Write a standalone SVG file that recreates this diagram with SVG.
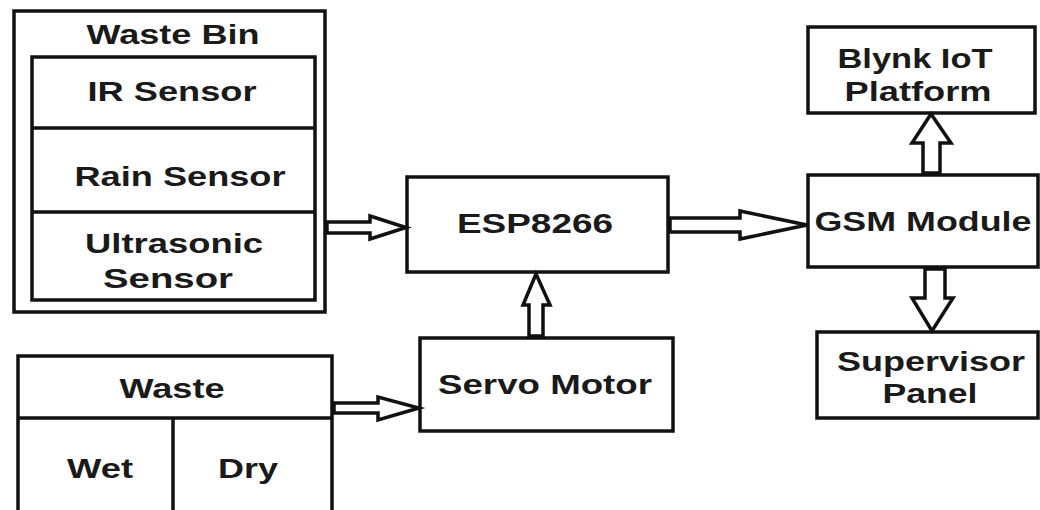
<svg xmlns="http://www.w3.org/2000/svg" width="1040" height="510" viewBox="0 0 1040 510">
<style>
.box{fill:#fff;stroke:#111;stroke-width:3.5}
.ln{fill:none;stroke:#111;stroke-width:3.5}
.arr{fill:#fff;stroke:#111;stroke-width:3.5;stroke-linejoin:miter}
text{font-family:"Liberation Sans",Arial,sans-serif;font-weight:bold;font-size:27px;fill:#1a1a1a;text-anchor:middle}
</style>
<rect width="1040" height="510" fill="#fff"/>
<g id="waste-bin">
<rect class="box" x="14" y="11" width="311" height="301"/>
<text x="173" y="44" textLength="173" lengthAdjust="spacingAndGlyphs">Waste Bin</text>
<rect class="box" x="32" y="57" width="283" height="243"/>
<line class="ln" x1="32" y1="128" x2="315" y2="128"/>
<line class="ln" x1="32" y1="212" x2="315" y2="212"/>
<g id="ir-sensor"><text x="172" y="101" textLength="169" lengthAdjust="spacingAndGlyphs">IR Sensor</text></g>
<g id="rain-sensor"><text x="180" y="186" textLength="211" lengthAdjust="spacingAndGlyphs">Rain Sensor</text></g>
<g id="ultrasonic-sensor"><text x="174" y="253" textLength="178" lengthAdjust="spacingAndGlyphs">Ultrasonic</text>
<text x="168" y="288" textLength="130" lengthAdjust="spacingAndGlyphs">Sensor</text></g>
</g>
<g id="esp8266">
<rect class="box" x="407" y="177" width="261" height="95"/>
<text x="535" y="233" textLength="156" lengthAdjust="spacingAndGlyphs">ESP8266</text>
</g>
<g id="servo-motor">
<rect class="box" x="420" y="338" width="253" height="93"/>
<text x="545" y="394" textLength="214" lengthAdjust="spacingAndGlyphs">Servo Motor</text>
</g>
<g id="waste">
<rect class="box" x="18" y="356" width="314" height="164"/>
<line class="ln" x1="18" y1="418" x2="332" y2="418"/>
<line class="ln" x1="173" y1="418" x2="173" y2="520"/>
<text x="172" y="398" textLength="105" lengthAdjust="spacingAndGlyphs">Waste</text>
<g id="wet"><text x="100" y="478" textLength="66" lengthAdjust="spacingAndGlyphs">Wet</text></g>
<g id="dry"><text x="248" y="478" textLength="60" lengthAdjust="spacingAndGlyphs">Dry</text></g>
</g>
<g id="blynk">
<rect class="box" x="808" y="27" width="227" height="86"/>
<text x="915" y="68" textLength="155" lengthAdjust="spacingAndGlyphs">Blynk IoT</text>
<text x="918" y="101" textLength="147" lengthAdjust="spacingAndGlyphs">Platform</text>
</g>
<g id="gsm">
<rect class="box" x="808" y="175" width="230" height="92"/>
<text x="923" y="231" textLength="217" lengthAdjust="spacingAndGlyphs">GSM Module</text>
</g>
<g id="supervisor">
<rect class="box" x="817" y="332" width="221" height="86"/>
<text x="931" y="371" textLength="188" lengthAdjust="spacingAndGlyphs">Supervisor</text>
<text x="930" y="403" textLength="95" lengthAdjust="spacingAndGlyphs">Panel</text>
</g>
<g id="connectors">
<polygon class="arr" points="327,222 370,222 370,216 406,227.5 370,239 370,233 327,233"/>
<polygon class="arr" points="670,218 740,218 740,211 807,225 740,239 740,232 670,232"/>
<polygon class="arr" points="529,336 529,305 523,305 536,274 550,305 543,305 543,336"/>
<polygon class="arr" points="334,403 378,403 378,397 419,408 378,420 378,413 334,413"/>
<polygon class="arr" points="923,173 923,143 912,143 931,114 951,143 940,143 940,173"/>
<polygon class="arr" points="925,269 925,298 912,298 932,331 953,298 945,298 945,269"/>
</g>
</svg>
